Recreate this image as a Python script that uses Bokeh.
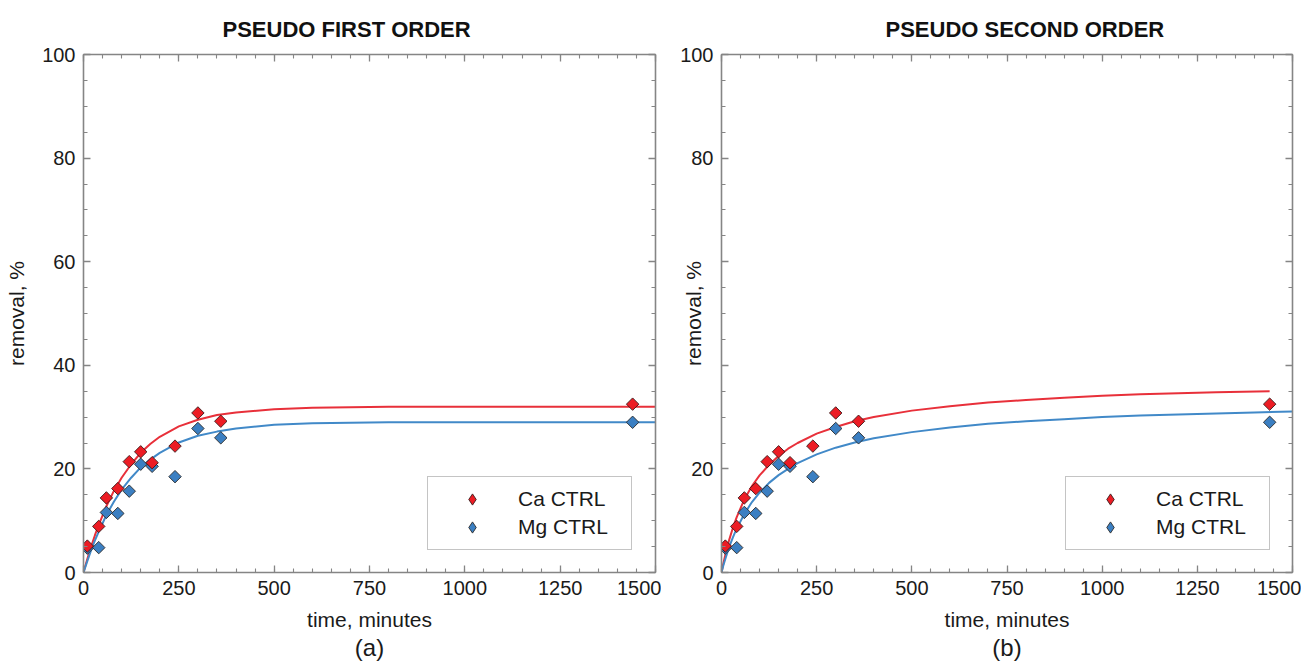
import numpy as np
from bokeh.plotting import figure
from bokeh.layouts import row
from bokeh.models import (LinearAxis, FixedTicker, Range1d, Legend, LegendItem, Label)
from bokeh.embed import file_html
from bokeh.resources import INLINE

# ---------------- data ----------------
time_min = [10, 40, 60, 90, 120, 150, 180, 240, 300, 360, 1440]
ca_removal = [5.1, 8.9, 14.4, 16.2, 21.4, 23.3, 21.2, 24.4, 30.8, 29.2, 32.5]
mg_removal = [4.7, 4.8, 11.6, 11.4, 15.7, 20.9, 20.5, 18.5, 27.8, 26.0, 29.0]

# pseudo first order fitted curves
pfo_t = [0, 10, 20, 30, 40, 60, 80, 100, 125, 150, 175, 200, 250, 300, 350,
         400, 500, 600, 800, 1000, 1500]
pfo_ca = [0, 2.6, 5.0, 7.2, 9.2, 12.8, 15.8, 18.3, 20.9, 23.1, 24.8, 26.2,
          28.2, 29.5, 30.4, 30.9, 31.5, 31.8, 32.0, 32.0, 32.0]
pfo_mg = [0, 2.2, 4.3, 6.2, 7.9, 11.1, 13.7, 16.0, 18.3, 20.3, 21.8, 23.1,
          25.1, 26.4, 27.2, 27.8, 28.5, 28.8, 29.0, 29.0, 29.0]

# pseudo second order fitted curves
pso_t_ca = [0, 5, 10, 20, 30, 40, 60, 80, 100, 125, 150, 175, 200, 250, 300,
            350, 400, 500, 600, 700, 800, 900, 1000, 1100, 1200, 1300, 1440]
pso_ca = [0, 1.8, 3.4, 6.25, 8.65, 10.7, 14.1, 16.7, 18.75, 20.8, 22.5, 23.9,
          25.0, 26.8, 28.1, 29.2, 30.0, 31.25, 32.1, 32.8, 33.3, 33.75, 34.1,
          34.4, 34.6, 34.8, 35.0]
pso_t_mg = [0, 5, 10, 20, 30, 40, 60, 80, 100, 125, 150, 175, 200, 250, 300,
            350, 400, 500, 600, 700, 800, 900, 1000, 1100, 1200, 1300, 1400, 1500]
pso_mg = [0, 1.4, 2.6, 4.9, 6.8, 8.5, 11.3, 13.6, 15.4, 17.3, 18.8, 20.0, 21.1,
          22.8, 24.1, 25.1, 25.9, 27.1, 28.0, 28.7, 29.2, 29.6, 30.0, 30.3,
          30.5, 30.7, 30.9, 31.1]

x_ticks = [0, 250, 500, 750, 1000, 1250, 1500]
x_minor = list(range(0, 1501, 50))
y_ticks = [0, 20, 40, 60, 80, 100]
y_minor = list(range(0, 101, 5))

series_names = ["Ca CTRL", "Mg CTRL"]
titles = ["PSEUDO FIRST ORDER", "PSEUDO SECOND ORDER"]
sub_labels = ["(a)", "(b)"]

# ---------------- styles ----------------
RED_FILL = "#ec1c24"
BLUE_FILL = "#3b7fc2"
RED_LINE = "#e8303a"
BLUE_LINE = "#4189c8"
AXIS_GRAY = "#858585"
TEXT = "#1a1a1a"
FONT = "Liberation Sans"
NAN = float("nan")


def style_axis(ax, labels=True):
    ax.axis_line_color = AXIS_GRAY
    ax.axis_line_width = 1.6
    ax.major_tick_line_color = AXIS_GRAY
    ax.minor_tick_line_color = AXIS_GRAY
    ax.major_tick_line_width = 1.3
    ax.minor_tick_line_width = 1.1
    ax.major_tick_in = 7
    ax.major_tick_out = 0
    ax.minor_tick_in = 4
    ax.minor_tick_out = 0
    ax.major_label_text_font = FONT
    ax.major_label_text_color = TEXT
    if labels:
        ax.major_label_text_font_size = "20px"
    else:
        ax.major_label_text_color = None
        ax.major_label_text_font_size = "1px"
        ax.major_label_standoff = 0


def make_panel(idx, width, border_left, border_right, title_offset,
               ca_t, ca_curve, mg_t, mg_curve, ylabel_standoff):
    p = figure(width=width, height=663, x_range=Range1d(0, 1500),
               y_range=Range1d(0, 100), output_backend="svg",
               toolbar_location=None, min_border_left=border_left,
               min_border_right=border_right, min_border_top=54,
               min_border_bottom=91)
    p.grid.visible = False
    p.outline_line_color = None
    p.background_fill_color = "white"
    p.border_fill_color = "white"

    xt = FixedTicker(ticks=x_ticks, minor_ticks=x_minor)
    yt = FixedTicker(ticks=y_ticks, minor_ticks=y_minor)

    xa = p.xaxis[0]
    xa.ticker = xt
    style_axis(xa)
    xa.major_label_standoff = 8
    xa.axis_label = "time, minutes"
    xa.axis_label_text_font = FONT
    xa.axis_label_text_font_style = "normal"
    xa.axis_label_text_font_size = "21px"
    xa.axis_label_text_color = TEXT
    xa.axis_label_standoff = 10

    ya = p.yaxis[0]
    ya.ticker = yt
    style_axis(ya)
    ya.major_label_standoff = 8
    ya.axis_label = "removal, %"
    ya.axis_label_text_font = FONT
    ya.axis_label_text_font_style = "normal"
    ya.axis_label_text_font_size = "21px"
    ya.axis_label_text_color = TEXT
    ya.axis_label_standoff = ylabel_standoff

    top = LinearAxis(ticker=FixedTicker(ticks=x_ticks, minor_ticks=x_minor))
    style_axis(top, labels=False)
    p.add_layout(top, "above")
    right = LinearAxis(ticker=FixedTicker(ticks=y_ticks, minor_ticks=y_minor))
    style_axis(right, labels=False)
    p.add_layout(right, "right")

    sub = LinearAxis(ticker=FixedTicker(ticks=[]), axis_line_color=None,
                     major_tick_line_color=None, minor_tick_line_color=None,
                     major_label_standoff=0, axis_label=sub_labels[idx],
                     axis_label_text_font=FONT, axis_label_text_font_style="normal",
                     axis_label_text_font_size="24px", axis_label_text_color=TEXT,
                     axis_label_standoff=0)
    p.add_layout(sub, "below")

    p.title.text = titles[idx]
    p.title.align = "left"
    p.title.offset = title_offset
    p.title.text_font = FONT
    p.title.text_font_style = "bold"
    p.title.text_font_size = "22px"
    p.title.text_color = "#111111"
    p.title.standoff = 26

    p.line(ca_t, ca_curve, line_color=RED_LINE, line_width=2)
    p.line(mg_t, mg_curve, line_color=BLUE_LINE, line_width=2)
    r_mg = p.scatter(time_min, mg_removal, marker="square", angle=np.pi / 4,
                     size=8.8, fill_color=BLUE_FILL, line_color="#2a2a2a",
                     line_width=0.9)
    r_ca = p.scatter(time_min, ca_removal, marker="square", angle=np.pi / 4,
                     size=8.8, fill_color=RED_FILL, line_color="#3a1a1a",
                     line_width=0.9)
    # legend swatches (diamond shaped, since legend markers are not rotated);
    # their single point is NaN so nothing shows inside the plot area
    k_ca = p.scatter(x=[NAN], y=[NAN], marker="diamond", fill_color=RED_FILL,
                     line_color="#3a1a1a", line_width=0.9)
    k_mg = p.scatter(x=[NAN], y=[NAN], marker="diamond", fill_color=BLUE_FILL,
                     line_color="#2a2a2a", line_width=0.9)

    legend = Legend(items=[LegendItem(label=series_names[0], renderers=[k_ca]),
                           LegendItem(label=series_names[1], renderers=[k_mg])],
                    location=(344, 22), padding=8, glyph_width=72,
                    glyph_height=28, label_height=28, label_width=105,
                    label_standoff=10, spacing=0, margin=0,
                    border_line_color="#8a8a8a", border_line_width=1.5,
                    background_fill_color="white", background_fill_alpha=1.0,
                    label_text_font=FONT, label_text_font_size="21px",
                    label_text_color=TEXT)
    p.add_layout(legend)
    return p


p1 = make_panel(0, 661, 83, 6, 139, pfo_t, pfo_ca, pfo_t, pfo_mg, 11)
p2 = make_panel(1, 640, 60, 9, 164, pso_t_ca, pso_ca, pso_t_mg, pso_mg, -28)

# right panel: 60 and 40 are not labelled, last x label shifted inside
p2.yaxis[0].major_label_overrides = {40: "", 60: ""}
p2.xaxis[0].major_label_overrides = {1500: ""}
p2.add_layout(Label(x=1500, y=0, x_offset=6, y_offset=-8, text="1500",
                    text_align="right", text_baseline="top",
                    text_font=FONT, text_font_size="20px", text_color=TEXT))

layout = row(p1, p2, spacing=0)
open("out.html", "w").write(file_html(layout, INLINE))
